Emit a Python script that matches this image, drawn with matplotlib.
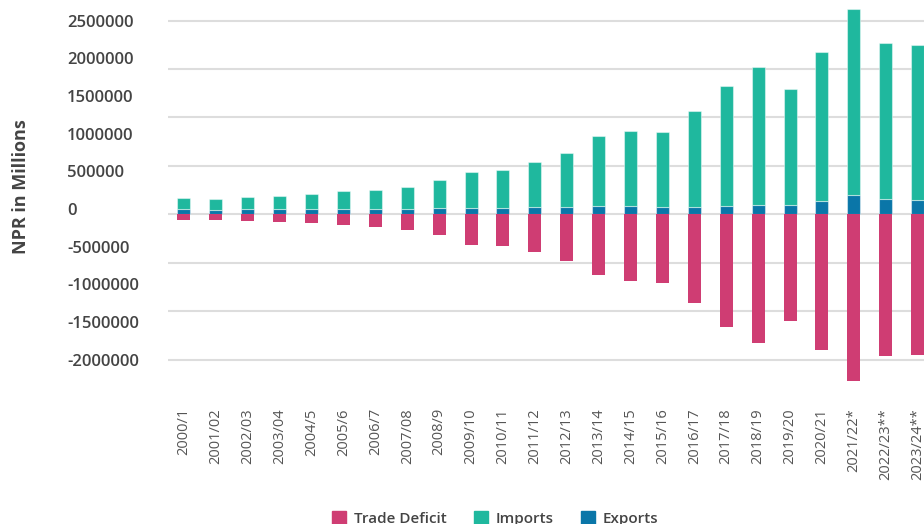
import matplotlib
matplotlib.use("Agg")
import matplotlib.pyplot as plt
from matplotlib.patches import Patch
import numpy as np

categories = ["2000/1", "2001/02", "2002/03", "2003/04", "2004/5", "2005/6", "2006/7",
              "2007/08", "2008/9", "2009/10", "2010/11", "2011/12", "2012/13", "2013/14",
              "2014/15", "2015/16", "2016/17", "2017/18", "2018/19", "2019/20", "2020/21",
              "2021/22*", "2022/23**", "2023/24**"]

exports = [56000, 46000, 52000, 55000, 58000, 60000, 59000, 60000, 68000, 61000, 65000,
           75000, 78000, 91000, 86000, 71000, 72000, 81000, 96000, 97000, 141000,
           200000, 155000, 152000]
imports = [117000, 108000, 124000, 136000, 152000, 176000, 194000, 224000, 282000, 372000,
           393000, 463000, 558000, 716000, 773000, 776000, 991000, 1245000, 1422000,
           1196000, 1538000, 1915000, 1612000, 1600000]
trade_deficit = [-62000, -62000, -74000, -82000, -92000, -113000, -135000, -160000,
                 -214000, -312000, -332000, -390000, -478000, -622000, -688000, -706000,
                 -916000, -1168000, -1325000, -1100000, -1400000, -1725000, -1460000,
                 -1450000]

# tick labels as printed on the reference's y axis
ytick_labels = ["2500000", "2000000", "1500000", "1000000", "500000", "0",
                "-500000", "-1000000", "-1500000", "-2000000"]

C_DEF = "#CF3D73"
C_IMP = "#1FB89E"
C_EXP = "#0A76A8"

fig = plt.figure(figsize=(9.24, 5.24), dpi=100)
ax = fig.add_axes([168/924, 0.2305, 765.6/924, 0.7672])

x = np.arange(len(categories))
w = 0.41
ax.bar(x, exports, width=w, color=C_EXP, edgecolor=(1, 1, 1, 0.45), linewidth=0.8, zorder=3)
ax.bar(x, imports, width=w, bottom=exports, color=C_IMP, edgecolor=(1, 1, 1, 0.45),
       linewidth=0.8, zorder=3)
ax.bar(x, trade_deficit, width=w, color=C_DEF, linewidth=0, zorder=3)

ax.set_xlim(-0.5, len(categories) - 0.5)
ax.set_ylim(-1.95e6, 2.2e6)

# gridlines
for g in np.arange(-1.5e6, 2.0e6 + 1, 5e5):
    ax.axhline(g, color="#DDDDDD", linewidth=1.5, zorder=0)

# y labels (positioned as in reference)
ax.set_yticks(np.linspace(2.0e6, -1.5e6, len(ytick_labels)))
ax.set_yticklabels(ytick_labels, fontfamily="Open Sans", fontweight="semibold",
                   fontsize=12, color="#444444")
for lab in ax.get_yticklabels():
    lab.set_horizontalalignment("left")
ax.tick_params(axis="y", which="both", length=0, pad=72.7)

ax.set_xticks(x)
ax.set_xticklabels(categories, rotation=90, fontfamily="Open Sans", fontsize=10.5,
                   color="#555555", va="top", ha="center")
ax.tick_params(axis="x", length=0, pad=3.6)

for s in ax.spines.values():
    s.set_visible(False)

fig.text(21/924, 1 - 187/524, "NPR in Millions", rotation=90, ha="center", va="center",
         fontfamily="Open Sans", fontweight="bold", fontsize=13, color="#444444")

handles = [Patch(color=C_DEF, label="Trade Deficit"),
           Patch(color=C_IMP, label="Imports"),
           Patch(color=C_EXP, label="Exports")]
leg = fig.legend(handles=handles, loc="center", bbox_to_anchor=(0.536, 0.011),
                 bbox_transform=fig.transFigure, ncol=3, frameon=False,
                 handlelength=0.9, handleheight=0.9, handletextpad=0.5,
                 columnspacing=1.8, borderpad=0,
                 prop={"family": "Open Sans", "weight": "semibold", "size": 11})
for t in leg.get_texts():
    t.set_color("#444444")

fig.savefig("out.png", dpi=100)
